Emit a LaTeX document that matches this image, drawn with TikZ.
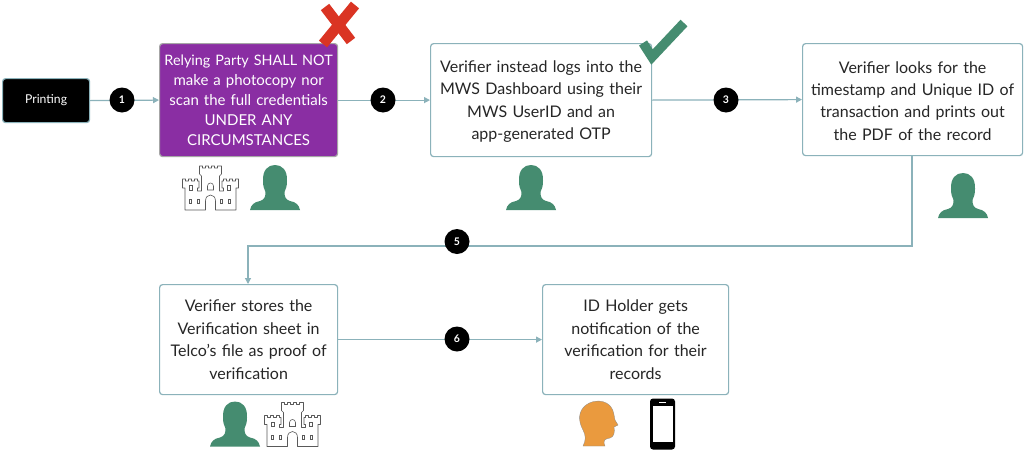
\documentclass[tikz,border=0pt]{standalone}
\usepackage{fontspec}
\setmainfont{Lato}
\usetikzlibrary{arrows.meta,calc}
\definecolor{edgeblue}{HTML}{8BB2BA}
\definecolor{purplebox}{HTML}{8A2EA3}
\definecolor{personG}{HTML}{458C70}
\definecolor{crossR}{HTML}{DA3423}
\definecolor{headO}{HTML}{EA9A3E}
\newcommand{\dropline}{\rule{0pt}{14.5pt}}
\tikzset{
  x=1pt,y=-1pt,
  flowbox/.style={draw=edgeblue,line width=1.2pt,rounded corners=3pt,fill=white,align=center,font=\fontsize{16}{22.4}\selectfont,text=black!85,anchor=north west,inner sep=0pt},
  badge/.style={circle,fill=black,text=white,inner sep=0pt,minimum size=25pt,font=\fontsize{10.5}{10.5}\selectfont\bfseries},
  conn/.style={draw=edgeblue,line width=1.2pt,-{Triangle[length=6pt,width=6pt]}},
  person/.pic={
    \fill[personG] (-25,0) .. controls (-24,-5) and (-21,-8) .. (-15,-9)
      .. controls (-10,-10.5) and (-9.5,-14) .. (-9.5,-18)
      .. controls (-11,-21) and (-12,-24) .. (-12,-29)
      .. controls (-12.5,-40) and (-7,-45) .. (0,-45)
      .. controls (7,-45) and (12.5,-40) .. (12,-29)
      .. controls (12,-24) and (11,-21) .. (9.5,-18)
      .. controls (9.5,-14) and (10,-10.5) .. (15,-9)
      .. controls (21,-8) and (24,-5) .. (25,0) -- cycle;
  },
  castle/.pic={
    \draw[black!65,line width=.6pt,fill=white,line join=round]
      (-25.5,0) -- (-25.5,-22) -- (-28,-22) -- (-28,-31) -- (-25,-31) -- (-25,-29) -- (-22,-29) -- (-22,-31) -- (-19,-31) -- (-19,-29) -- (-16,-29) -- (-16,-31) -- (-13,-31) -- (-13,-29) -- (-11.5,-29)
      -- (-11.5,-22) -- (-13,-22) -- (-13,-19) -- (-9,-19) -- (-9,-34) -- (-11,-36) -- (-11,-44) -- (-8,-44) -- (-8,-42) -- (-5,-42) -- (-5,-44) -- (-2,-44) -- (-2,-42) -- (1,-42) -- (1,-44) -- (4,-44) -- (4,-42) -- (7,-42) -- (7,-44) -- (11,-44) -- (11,-36) -- (9,-34)
      -- (9,-19) -- (13,-19) -- (13,-22) -- (11.5,-22) -- (11.5,-29) -- (13,-29) -- (13,-31) -- (16,-31) -- (16,-29) -- (19,-29) -- (19,-31) -- (22,-31) -- (22,-29) -- (25,-29) -- (25,-31) -- (28,-31) -- (28,-22) -- (25.5,-22) -- (25.5,0)
      -- (5,0) -- (5,-9) .. controls (5,-17) and (-5,-17) .. (-5,-9) -- (-5,0) -- cycle;
    \foreach \wx in {-21.5,-13.5,9.5,17.5} \draw[black!65,line width=.55pt] (\wx,-11) rectangle +(2.5,4);
    \foreach \wx in {-21,17} \draw[black!65,line width=.55pt] (\wx,-24.5) rectangle +(3,4.5);
    \draw[black!65,line width=.55pt] (-3,-20) -- (-3,-24) .. controls (-3,-28) and (3,-28) .. (3,-24) -- (3,-20) -- cycle;
  }
}
\begin{document}
\begin{tikzpicture}
\useasboundingbox (0,0) rectangle (1024,450);
\fill[white] (0,0) rectangle (1024,450);

\node[flowbox,fill=black,text=white,minimum width=87pt,minimum height=44pt,font=\fontsize{12.2}{15}\selectfont] (print) at (2,78) {Printing};
\node[flowbox,fill=purplebox,text=white,draw=black!35,minimum width=178pt,minimum height=113pt,text width=178pt,font=\fontsize{15}{20.1}\selectfont] (rely) at (159,43) {{\fontsize{14.4}{20.1}\selectfont Relying Party SHALL NOT}\\make a photocopy nor\\scan the full credentials\\UNDER ANY\\CIRCUMSTANCES};
\node[flowbox,minimum width=221pt,minimum height=113pt,text width=221pt] (login) at (430,43) {\dropline Verifier instead logs into the\\MWS Dashboard using their\\MWS UserID and an\\app-generated OTP};
\node[flowbox,minimum width=220pt,minimum height=112pt,text width=220pt] (look) at (802,43) {\dropline Verifier looks for the\\timestamp and Unique ID of\\transaction and prints out\\the PDF of the record};
\node[flowbox,minimum width=178pt,minimum height=110pt,text width=178pt] (store) at (159,284) {Verifier stores the\\Verification sheet in\\Telco's file as proof of\\verification};
\node[flowbox,minimum width=186pt,minimum height=110pt,text width=186pt] (notify) at (542,284) {ID Holder gets\\notification of the\\verification for their\\records};

\coordinate (c1) at (912,246);
\coordinate (c2) at (248,246);
\draw[conn] (print.east) -- (rely.west);
\draw[conn] (rely.east) -- (login.west);
\draw[conn] (login.east) -- (look.west);
\draw[conn] (look.south -| c1) -- (c1) -- (c2) -- (store.north -| c2);
\draw[conn] (store.east |- notify.west) -- (notify.west);

\node[badge] (b1) at (122,100) {1};
\node[badge] (b2) at (383,100) {2};
\node[badge] (b3) at (726,100) {3};
\node[badge] (b5) at (457,241.5) {5};
\node[badge] (b6) at (457,339) {6};

\pic at (210.5,210) {castle};
\pic at (275,210) {person};
\pic at (531,210) {person};
\pic at (963,218) {person};
\pic at (235,446.5) {person};
\pic at (292.5,446.5) {castle};

% cross
\draw[crossR,line width=10.5pt] (325,7) -- (351,41);
\draw[crossR,line width=10.5pt] (355,5) -- (323,44);
% check
\draw[personG,line width=9.5pt,line join=miter] (643,43) -- (652,57) -- (684,23);

% head
\fill[headO,draw=black!45,line width=.3pt] (583,446)
  .. controls (586,440) and (586,436) .. (583,430)
  .. controls (578,421) and (578,411) .. (586,405)
  .. controls (594,399) and (606,400) .. (611,407)
  .. controls (614,411) and (614,416) .. (615,420)
  -- (618,425) -- (614,427)
  .. controls (615,432) and (614,437) .. (610,438)
  .. controls (606,439) and (604,439) .. (604,443)
  -- (605,446) -- cycle;
% phone
\fill[black,rounded corners=3pt] (650,398.5) rectangle (675,449.5);
\fill[white] (652.5,406) rectangle (672.5,442);
\fill[white] (659,402) rectangle (666,403);
\end{tikzpicture}
\end{document}
